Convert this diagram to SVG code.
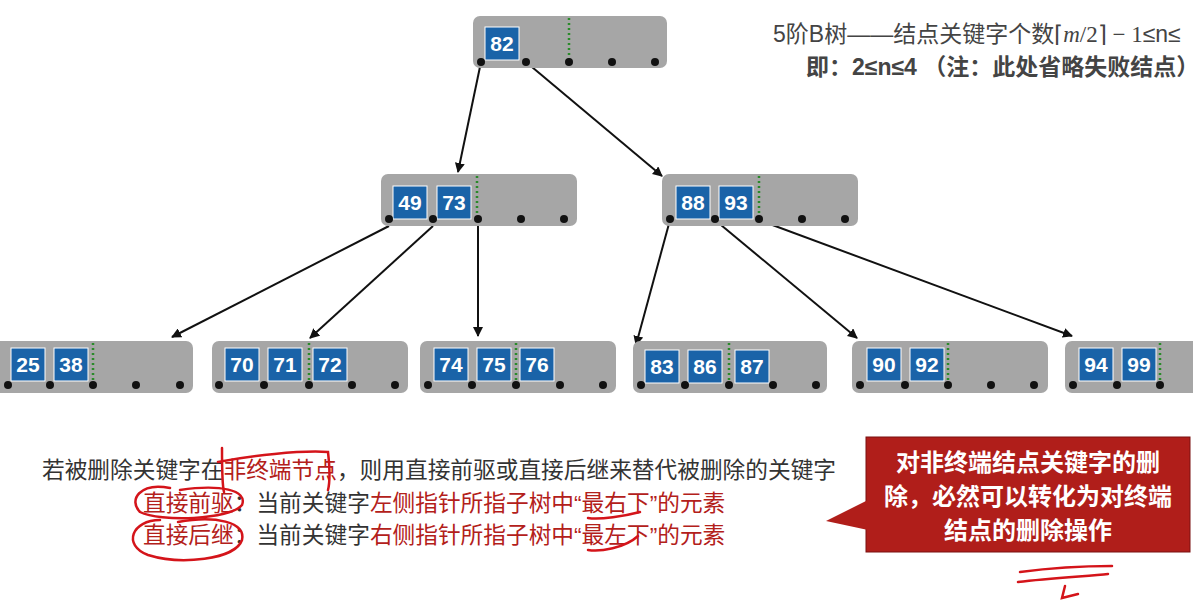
<svg xmlns="http://www.w3.org/2000/svg" width="1193" height="601" viewBox="0 0 1193 601">
<defs>
<marker id="ah" markerWidth="10" markerHeight="10" refX="9" refY="5" orient="auto" markerUnits="userSpaceOnUse"><path d="M0,0 L10,5 L0,10 z" fill="#111"/></marker>
<style>
.nd{fill:#a6a6a6;}
.k{fill:#1a63a8;stroke:#fff;stroke-width:1;}
.kt{font-family:"Liberation Sans",Arial,sans-serif;font-size:21px;font-weight:bold;fill:#fff;text-anchor:middle;}
.dt{fill:#111;}
.gd{stroke:#2a8a2a;stroke-width:2.5;stroke-dasharray:2,3;}
.cn{stroke:#111;stroke-width:2;fill:none;marker-end:url(#ah);}
.t{font-family:"Liberation Sans","Noto Sans CJK SC",sans-serif;font-size:22.7px;fill:#333;}
.h{font-family:"Liberation Sans","Noto Sans CJK SC",sans-serif;font-size:23px;fill:#444;}
.r{fill:#b3201a;}
.pen{stroke:#d4141a;stroke-width:2.5;fill:none;stroke-linecap:round;}
.ct{font-family:"Noto Sans CJK SC",sans-serif;font-size:24px;font-weight:bold;fill:#fff;text-anchor:middle;}
</style>
</defs>
<rect width="1193" height="601" fill="#fff"/>
<g id="connectors">
<line class="cn" x1="481" y1="62" x2="458" y2="172"/>
<line class="cn" x1="526" y1="62" x2="662" y2="176"/>
<line class="cn" x1="389" y1="226" x2="172" y2="337"/>
<line class="cn" x1="433" y1="226" x2="310" y2="338"/>
<line class="cn" x1="478" y1="220" x2="478" y2="336"/>
<line class="cn" x1="670" y1="220" x2="636" y2="345"/>
<line class="cn" x1="715" y1="220" x2="857" y2="338"/>
<line class="cn" x1="759" y1="220" x2="1072" y2="336"/>
</g>
<g id="n82">
<rect class="nd" x="473" y="16" width="194" height="52" rx="7"/>
<rect class="k" x="485" y="27" width="34" height="33"/><text class="kt" x="502" y="51">82</text>
<line class="gd" x1="569" y1="18" x2="569" y2="60"/>
<circle class="dt" cx="481" cy="62" r="4"/><circle class="dt" cx="526" cy="62" r="4"/><circle class="dt" cx="569" cy="62" r="4"/><circle class="dt" cx="612" cy="62" r="4"/><circle class="dt" cx="655" cy="62" r="4"/>
</g>
<g id="n49">
<rect class="nd" x="381" y="174" width="196" height="52" rx="7"/>
<rect class="k" x="393" y="186" width="34" height="33"/><text class="kt" x="410" y="210">49</text>
<rect class="k" x="437" y="186" width="34" height="33"/><text class="kt" x="454" y="210">73</text>
<line class="gd" x1="477" y1="176" x2="477" y2="218"/>
<circle class="dt" cx="389" cy="219" r="4"/><circle class="dt" cx="433" cy="219" r="4"/><circle class="dt" cx="478" cy="219" r="4"/><circle class="dt" cx="521" cy="219" r="4"/><circle class="dt" cx="564" cy="219" r="4"/>
</g>
<g id="n88">
<rect class="nd" x="662" y="174" width="196" height="52" rx="7"/>
<rect class="k" x="676" y="186" width="34" height="33"/><text class="kt" x="693" y="210">88</text>
<rect class="k" x="719" y="186" width="34" height="33"/><text class="kt" x="736" y="210">93</text>
<line class="gd" x1="759" y1="176" x2="759" y2="218"/>
<circle class="dt" cx="670" cy="219" r="4"/><circle class="dt" cx="715" cy="219" r="4"/><circle class="dt" cx="759" cy="219" r="4"/><circle class="dt" cx="802" cy="219" r="4"/><circle class="dt" cx="845" cy="219" r="4"/>
</g>
<g id="n25">
<rect class="nd" x="-8" y="341" width="201" height="52" rx="7"/>
<rect class="k" x="11" y="348" width="34" height="33"/><text class="kt" x="28" y="372">25</text>
<rect class="k" x="54" y="348" width="34" height="33"/><text class="kt" x="71" y="372">38</text>
<line class="gd" x1="93" y1="343" x2="93" y2="384"/>
<circle class="dt" cx="8" cy="385" r="4"/><circle class="dt" cx="50" cy="385" r="4"/><circle class="dt" cx="93" cy="385" r="4"/><circle class="dt" cx="136" cy="385" r="4"/><circle class="dt" cx="180" cy="385" r="4"/>
</g>
<g id="n70">
<rect class="nd" x="212" y="341" width="196" height="52" rx="7"/>
<rect class="k" x="225" y="348" width="34" height="33"/><text class="kt" x="242" y="372">70</text>
<rect class="k" x="268" y="348" width="34" height="33"/><text class="kt" x="285" y="372">71</text>
<rect class="k" x="313" y="348" width="34" height="33"/><text class="kt" x="330" y="372">72</text>
<line class="gd" x1="309" y1="343" x2="309" y2="384"/>
<circle class="dt" cx="219" cy="385" r="4"/><circle class="dt" cx="264" cy="385" r="4"/><circle class="dt" cx="309" cy="385" r="4"/><circle class="dt" cx="352" cy="385" r="4"/><circle class="dt" cx="395" cy="385" r="4"/>
</g>
<g id="n74">
<rect class="nd" x="420" y="341" width="196" height="52" rx="7"/>
<rect class="k" x="434" y="348" width="34" height="33"/><text class="kt" x="451" y="372">74</text>
<rect class="k" x="477" y="348" width="34" height="33"/><text class="kt" x="494" y="372">75</text>
<rect class="k" x="520" y="348" width="34" height="33"/><text class="kt" x="537" y="372">76</text>
<line class="gd" x1="516" y1="343" x2="516" y2="384"/>
<circle class="dt" cx="428" cy="385" r="4"/><circle class="dt" cx="472" cy="385" r="4"/><circle class="dt" cx="516" cy="385" r="4"/><circle class="dt" cx="560" cy="385" r="4"/><circle class="dt" cx="603" cy="385" r="4"/>
</g>
<g id="n83">
<rect class="nd" x="633" y="341" width="194" height="52" rx="7"/>
<rect class="k" x="645" y="350" width="34" height="33"/><text class="kt" x="662" y="374">83</text>
<rect class="k" x="688" y="350" width="34" height="33"/><text class="kt" x="705" y="374">86</text>
<rect class="k" x="735" y="350" width="34" height="33"/><text class="kt" x="752" y="374">87</text>
<line class="gd" x1="729" y1="343" x2="729" y2="384"/>
<circle class="dt" cx="641" cy="385" r="4"/><circle class="dt" cx="685" cy="385" r="4"/><circle class="dt" cx="729" cy="385" r="4"/><circle class="dt" cx="773" cy="385" r="4"/><circle class="dt" cx="816" cy="385" r="4"/>
</g>
<g id="n90">
<rect class="nd" x="852" y="341" width="196" height="52" rx="7"/>
<rect class="k" x="867" y="348" width="34" height="33"/><text class="kt" x="884" y="372">90</text>
<rect class="k" x="910" y="348" width="34" height="33"/><text class="kt" x="927" y="372">92</text>
<line class="gd" x1="948" y1="343" x2="948" y2="384"/>
<circle class="dt" cx="860" cy="385" r="4"/><circle class="dt" cx="905" cy="385" r="4"/><circle class="dt" cx="948" cy="385" r="4"/><circle class="dt" cx="991" cy="385" r="4"/><circle class="dt" cx="1034" cy="385" r="4"/>
</g>
<g id="n94">
<rect class="nd" x="1065" y="341" width="196" height="52" rx="7"/>
<rect class="k" x="1079" y="348" width="34" height="33"/><text class="kt" x="1096" y="372">94</text>
<rect class="k" x="1122" y="348" width="34" height="33"/><text class="kt" x="1139" y="372">99</text>
<line class="gd" x1="1160" y1="343" x2="1160" y2="384"/>
<circle class="dt" cx="1073" cy="385" r="4"/><circle class="dt" cx="1117" cy="385" r="4"/><circle class="dt" cx="1160" cy="385" r="4"/>
</g>
<g id="title">
<text class="h" x="773" y="42">5阶B树——结点关键字个数⌈<tspan font-family="Liberation Serif" font-style="italic">m</tspan><tspan font-family="Liberation Serif">/2⌉ − 1</tspan>≤n≤</text>
<text class="h" x="806" y="75" font-weight="bold">即：2≤n≤4 （注：此处省略失败结点）</text>
</g>
<g id="notes">
<text class="t" x="42" y="478">若被删除关键字在<tspan class="r">非终端节点</tspan>，则用直接前驱或直接后继来替代被删除的关键字</text>
<text class="t" x="143" y="511"><tspan class="r">直接前驱</tspan>：当前关键字<tspan class="r">左侧指针所指子树中“最右下”的元素</tspan></text>
<text class="t" x="143" y="543"><tspan class="r">直接后继</tspan>：当前关键字<tspan class="r">右侧指针所指子树中“最左下”的元素</tspan></text>
</g>
<g id="callout">
<rect x="866" y="437" width="324" height="115" fill="#b01e1a" stroke="#7a1010"/>
<path d="M868,500 L826,521 L868,530 z" fill="#b01e1a"/>
<text class="ct" x="1028" y="471">对非终端结点关键字的删</text>
<text class="ct" x="1028" y="505">除，必然可以转化为对终端</text>
<text class="ct" x="1028" y="539">结点的删除操作</text>
</g>
<g id="ink">
<path class="pen" d="M222,448 C222,470 222,485 224,492 M218,462 C250,456 300,450 328,452 C330,470 330,482 328,490"/>
<path class="pen" d="M170,488 C140,482 128,500 140,512 C160,522 230,520 242,505 C248,490 220,484 180,490"/>
<path class="pen" d="M160,520 C132,520 122,545 148,555 C180,565 235,560 242,540 C246,522 215,515 178,522"/>
<path class="pen" d="M588,518 C600,520 625,516 640,512"/>
<path class="pen" d="M588,550 C600,552 625,548 638,536"/>
<path class="pen" d="M1020,572 C1050,568 1080,566 1112,566 M1018,582 C1050,578 1090,576 1108,574 M1065,586 L1062,598 L1078,594"/>
</g>
</svg>
